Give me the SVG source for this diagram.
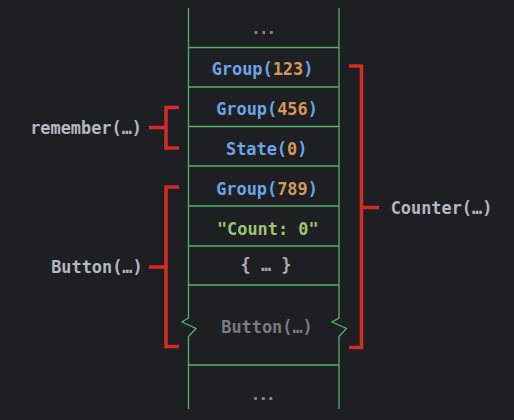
<svg xmlns="http://www.w3.org/2000/svg" width="514" height="420" viewBox="0 0 514 420">
<style>
text{font-family:"DejaVu Sans Mono","Liberation Mono",monospace;font-weight:bold;font-size:16.9px}
.c{text-anchor:middle}
.g{stroke:#52B368;stroke-width:1.3;fill:none}
.br{stroke:#D22C27;stroke-width:3.5;fill:none}
.blue{fill:#6AA5E6}
.num{fill:#D4975E}
.str{fill:#9CC472}
.grey{fill:#A9ACB6}
.dim{fill:#7A7B7E}
.dots{fill:#85868C;font-size:16.6px;letter-spacing:-2.4px}
.lbl{fill:#B4B7C4}
</style>
<rect width="514" height="420" fill="#1E1F22"/>
<g id="stack">
<path class="g" d="M188.5,8 V318 L182,322 L196,328.5 L188.5,336.5 V409"/>
<path class="g" d="M339,8 V318 L332,322 L346.5,328.5 L339,336.5 V409"/>
<path class="g" d="M188.5,47.5 H339 M188.5,87 H339 M188.5,126.5 H339 M188.5,166 H339 M188.5,206 H339 M188.5,246 H339 M188.5,285 H339 M188.5,365 H339"/>
</g>
<g id="top-ellipsis"><text class="c dots" x="262.5" y="34">...</text></g>
<g id="group-123"><text class="c" x="262.5" y="75"><tspan class="blue">Group(</tspan><tspan class="num">123</tspan><tspan class="blue">)</tspan></text></g>
<g id="group-456"><text class="c" x="267" y="115"><tspan class="blue">Group(</tspan><tspan class="num">456</tspan><tspan class="blue">)</tspan></text></g>
<g id="state-0"><text class="c" x="266.7" y="154.5"><tspan class="blue">State(</tspan><tspan class="num">0</tspan><tspan class="blue">)</tspan></text></g>
<g id="group-789"><text class="c" x="267" y="194.5"><tspan class="blue">Group(</tspan><tspan class="num">789</tspan><tspan class="blue">)</tspan></text></g>
<g id="count-text"><text class="c str" x="267.8" y="234.5">"Count: 0"</text></g>
<g id="lambda"><text class="c grey" x="266" y="271">{ … }</text></g>
<g id="button-slot"><text class="c dim" x="267" y="333">Button(…)</text></g>
<g id="bottom-ellipsis"><text class="c dots" x="262" y="400">...</text></g>
<g id="label-remember"><text class="lbl" x="142" y="134" text-anchor="end">remember(…)</text></g>
<g id="label-button"><text class="lbl" x="142.7" y="273.3" text-anchor="end">Button(…)</text></g>
<g id="label-counter"><text class="lbl" x="390.7" y="213.5">Counter(…)</text></g>
<g id="connectors">
<path class="br" d="M179,107.5 H166 V148 H179 M149,127.5 H166"/>
<path class="br" d="M179,187 H166 V346.5 H179 M149,267 H166"/>
<path class="br" d="M349,66 H361.5 V347.5 H349 M361.5,207.5 H379"/>
</g>
</svg>
